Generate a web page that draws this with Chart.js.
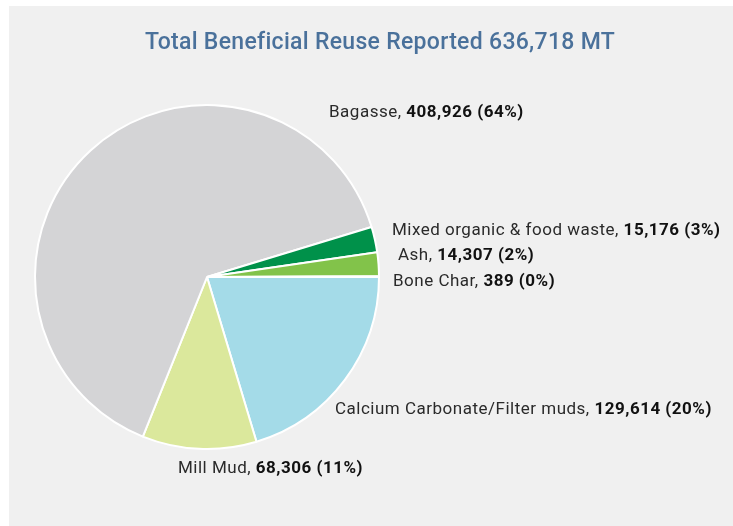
<!DOCTYPE html>
<html>
<head>
<meta charset="utf-8">
<script src="https://cdn.jsdelivr.net/npm/chart.js@4"></script>
<style>
  html, body { margin: 0; padding: 0; background: #ffffff; }
  .panel { position: absolute; left: 9px; top: 6px; width: 724px; height: 520px; background: #f0f0f0; }
  canvas { display: block; }
</style>
</head>
<body>
<div class="panel"><canvas id="reuseChart" width="724" height="520"></canvas></div>
<script>
// Données
const categories = ['Calcium Carbonate/Filter muds', 'Mill Mud', 'Bagasse', 'Mixed organic & food waste', 'Ash', 'Bone Char'];
const tonnes = [129614, 68306, 408926, 15176, 14307, 389];
const percents = ['20%', '11%', '64%', '3%', '2%', '0%'];
const sliceColors = ['#a4dbe8', '#dbe89c', '#d4d4d6', '#00914a', '#82c34a', '#5aa0c8'];
const titleText = 'Total Beneficial Reuse Reported 636,718 MT';

// Position des étiquettes (coordonnées du canvas)
const labelPos = [
  { x: 326, y: 404 },
  { x: 169, y: 463 },
  { x: 320, y: 107 },
  { x: 383, y: 225 },
  { x: 389, y: 250 },
  { x: 384, y: 276 }
];

const fmt = n => n.toLocaleString('en-US');

const labelsPlugin = {
  id: 'pie-labels',
  afterDraw(chart) {
    const ctx = chart.ctx;
    ctx.save();
    ctx.textBaseline = 'middle';
    // titre
    ctx.fillStyle = '#4a719b';
    ctx.font = '500 23px Roboto, "DejaVu Sans", sans-serif';
    ctx.letterSpacing = '0.3px';
    ctx.textAlign = 'center';
    ctx.fillText(titleText, 371, 37);
    ctx.textAlign = 'left';
    ctx.letterSpacing = '0.5px';
    categories.forEach((c, i) => {
      const p = labelPos[i];
      const name = c + ', ';
      ctx.font = '17px Roboto, "DejaVu Sans", sans-serif';
      ctx.fillStyle = '#2a2a2a';
      ctx.fillText(name, p.x, p.y);
      const w = ctx.measureText(name).width;
      ctx.font = 'bold 17px Roboto, "DejaVu Sans", sans-serif';
      ctx.fillStyle = '#111111';
      ctx.fillText(fmt(tonnes[i]) + ' (' + percents[i] + ')', p.x + w, p.y);
    });
    ctx.restore();
  }
};

new Chart(document.getElementById('reuseChart'), {
  type: 'pie',
  data: {
    labels: categories,
    datasets: [{ data: tonnes, backgroundColor: sliceColors, borderColor: '#ffffff', borderWidth: 2 }]
  },
  options: {
    responsive: false,
    animation: false,
    rotation: 90,
    layout: { padding: { top: 98, left: 25, right: 353, bottom: 76 } },
    plugins: { legend: { display: false }, tooltip: { enabled: false }, title: { display: false } }
  },
  plugins: [labelsPlugin]
});
</script>
</body>
</html>
